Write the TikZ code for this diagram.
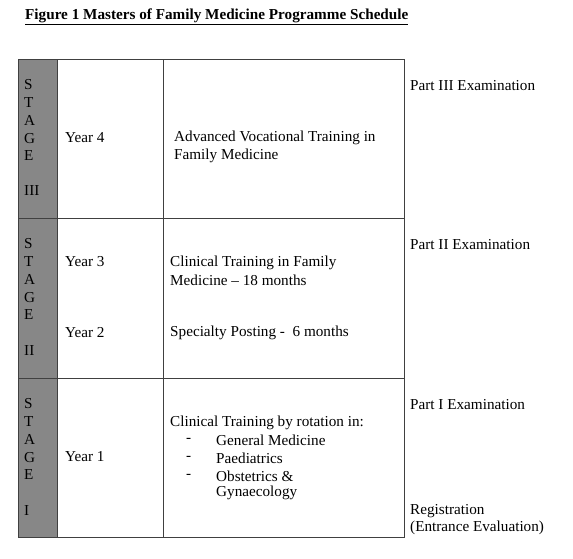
\documentclass[tikz,border=0pt]{standalone}
\usepackage{fontspec}
\setmainfont{Liberation Serif}
\usetikzlibrary{calc}

\begin{document}
\begin{tikzpicture}[x=1pt,y=-1pt,
	txt/.style={anchor=west,inner sep=0pt,font=\fontsize{15.2}{17.7}\selectfont},
	grid line/.style={draw=black!75,line width=0.7pt}]

	% ---- parameters

	\def\lx{18}
	\def\gx{57}
	\def\yx{163}
	\def\rx{404}
	\def\dy{17.7}

	\useasboundingbox (0,0) rectangle (573,558);

	% ---- coordinates

	\coordinate (T0) at (\lx,59);
	\coordinate (T1) at (\lx,218);
	\coordinate (T2) at (\lx,378);
	\coordinate (T3) at (\lx,537);

	% ---- title

	\node[txt] (title) at (25,17) {\underline{\textbf{Figure 1 Masters of Family Medicine Programme Schedule}}};

	% ---- stage column

	\fill[black!47] (T0) rectangle (\gx,537);

	% ---- grid

	\draw[grid line] (T0) rectangle (\rx,537);
	\foreach \k in {1,2} { \draw[grid line] (T\k) -- (\rx,0 |- T\k); }
	\draw[grid line] (\gx,59) -- (\gx,537);
	\draw[grid line] (\yx,59) -- (\yx,537);

	% ---- stage labels

	\foreach \ch [count=\i] in {S,T,A,G,E} {
		\node[txt] (sIII\i) at (24,{85+(\i-1)*\dy}) {\ch};
		\node[txt] (sII\i) at (24,{244+(\i-1)*\dy}) {\ch};
		\node[txt] (sI\i) at (24,{404+(\i-1)*\dy}) {\ch};
	}
	\node[txt] (nIII) at (24,191) {III};
	\node[txt] (nII) at (24,351) {II};
	\node[txt] (nI) at (24,511) {I};

	% ---- years

	\node[txt] (y4) at (65,138) {Year 4};
	\node[txt] (y3) at (65,262) {Year 3};
	\node[txt] (y2) at (65,333) {Year 2};
	\node[txt] (y1) at (65,457) {Year 1};

	% ---- training

	\node[txt] (avt) at (174,138) {Advanced Vocational Training in};
	\node[txt] (avt2) at (174,156) {Family Medicine};

	\node[txt] (ctf) at (170,263) {Clinical Training in Family};
	\node[txt] (ctf2) at (170,280) {Medicine -- 18 months};
	\node[txt] (spec) at (170,333) {Specialty Posting -\ \ 6 months};

	\node[txt] (rot) at (170,423) {Clinical Training by rotation in:};
	\foreach \item [count=\i] in {General Medicine,Paediatrics,Obstetrics \&} {
		\node[txt] (dash\i) at (186,{423+\i*\dy}) {-};
		\node[txt] (rot\i) at (216,{423+\i*\dy}) {\item};
	}
	\node[txt] (rot4) at (216,493) {Gynaecology};

	% ---- examinations

	\node[txt] (ex3) at (410,86) {Part III Examination};
	\node[txt] (ex2) at (410,245) {Part II Examination};
	\node[txt] (ex1) at (410,405) {Part I Examination};
	\node[txt] (reg) at (410,511) {Registration};
	\node[txt] (reg2) at (410,528) {(Entrance Evaluation)};

\end{tikzpicture}
\end{document}
